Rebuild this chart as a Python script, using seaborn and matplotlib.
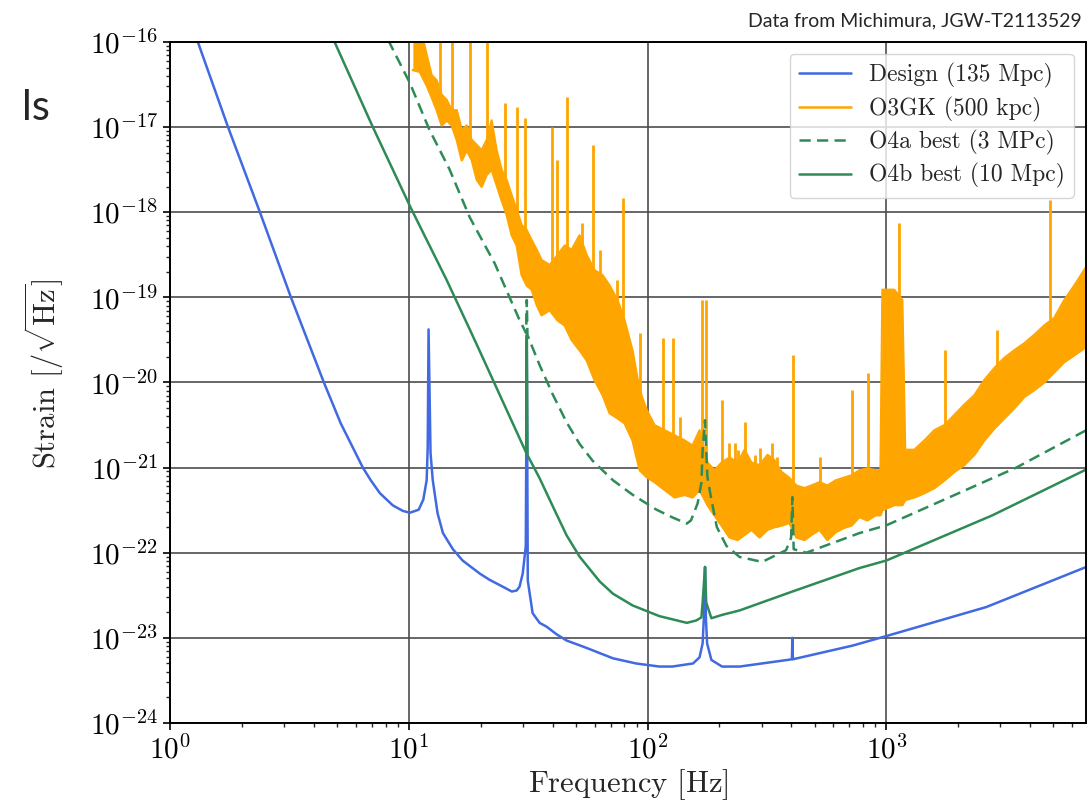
import matplotlib
matplotlib.use("Agg")
import numpy as np
import matplotlib.pyplot as plt
import matplotlib.ticker as mticker
import seaborn as sns

# --- dane (Hz, strain /sqrt(Hz)) ---
design_f = [1.3, 1.75, 2.38, 3.21, 4.41, 5.19, 6.42, 6.93, 7.57, 8.57,
            9.44, 10.1, 11.0, 11.5, 11.88, 12.0, 12.1, 12.33, 12.6, 13.2,
            13.9, 15.3, 16.8, 19.8, 21.8, 24.7, 27.0, 28.3, 29.1, 30.0,
            30.9, 31.2, 31.5, 33.0, 35.3, 37.8, 41.6, 45.8, 55.6, 71.6,
            89.5, 112, 127, 155, 165, 170, 172, 174, 175.5, 177.5,
            185, 205, 243, 385, 402, 404, 406, 721, 1024, 2620,
            6870]
design_h = [1.05e-16, 1e-17, 1e-18, 1e-19, 1e-20, 3.3e-21, 1e-21, 7.1e-22, 5.0e-22, 3.6e-22,
            3.1e-22, 2.95e-22, 3.2e-22, 4.2e-22, 7.1e-22, 1.7e-21, 4.2e-20, 1.5e-21, 7.1e-22, 2.9e-22,
            1.7e-22, 1.1e-22, 8.1e-23, 5.7e-23, 4.8e-23, 4.0e-23, 3.5e-23, 3.6e-23, 4.0e-23, 5.7e-23,
            1.2e-22, 3e-20, 4.7e-23, 1.95e-23, 1.5e-23, 1.35e-23, 1.1e-23, 9.3e-24, 7.6e-24, 5.75e-24,
            5.0e-24, 4.6e-24, 4.6e-24, 5.0e-24, 5.9e-24, 8.6e-24, 1.7e-23, 6.8e-23, 1.7e-23, 8.6e-24,
            5.5e-24, 4.6e-24, 4.6e-24, 5.5e-24, 5.6e-24, 1.0e-23, 5.6e-24, 8.1e-24, 1.07e-23, 2.3e-23,
            6.8e-23]

# O3GK: pasmo szumu, zapisane jako log10(f) i log10(strain) - gorna / dolna krawedz
o3_logf = [1.017, 1.046, 1.075, 1.096, 1.117, 1.138, 1.159, 1.180, 1.201, 1.222,
           1.243, 1.264, 1.285, 1.305, 1.326, 1.347, 1.368, 1.389, 1.410, 1.431,
           1.452, 1.473, 1.494, 1.515, 1.536, 1.556, 1.590, 1.623, 1.653, 1.682,
           1.715, 1.745, 1.778, 1.812, 1.841, 1.874, 1.904, 1.937, 1.967, 1.996,
           2.029, 2.071, 2.113, 2.155, 2.188, 2.218, 2.251, 2.280, 2.310, 2.343,
           2.377, 2.406, 2.435, 2.469, 2.502, 2.531, 2.561, 2.594, 2.623, 2.657,
           2.686, 2.720, 2.753, 2.787, 2.820, 2.854, 2.887, 2.921, 2.954, 2.975,
           2.983, 3.033, 3.067, 3.079, 3.117, 3.159, 3.201, 3.243, 3.285, 3.326,
           3.368, 3.410, 3.452, 3.494, 3.536, 3.577, 3.619, 3.661, 3.703, 3.745,
           3.787, 3.837]
o3_up = [-15.80, -15.80, -16.15, -16.39, -16.45, -16.62, -16.68, -16.80, -16.80, -17.03,
         -16.98, -17.15, -17.21, -17.27, -17.15, -16.92, -17.27, -17.50, -17.62, -17.80,
         -17.97, -18.15, -18.21, -18.33, -18.44, -18.56, -18.62, -18.50, -18.39, -18.44,
         -18.27, -18.50, -18.68, -18.74, -18.86, -19.03, -19.27, -19.62, -20.09, -20.32,
         -20.50, -20.56, -20.62, -20.68, -20.74, -20.56, -20.94, -21.03, -20.94, -20.88,
         -20.94, -20.79, -20.94, -20.97, -20.85, -20.91, -21.05, -21.12, -21.21, -21.24,
         -21.21, -21.17, -21.21, -21.15, -21.12, -21.09, -21.03, -21.01, -21.03, -21.03,
         -18.91, -18.91, -19.03, -20.79, -20.79, -20.68, -20.56, -20.50, -20.38, -20.26,
         -20.15, -19.97, -19.83, -19.71, -19.62, -19.54, -19.44, -19.33, -19.24, -19.03,
         -18.86, -18.64]
o3_lo = [-16.33, -16.35, -16.51, -16.65, -16.80, -16.98, -16.92, -16.98, -17.15, -17.39,
         -17.27, -17.39, -17.62, -17.70, -17.56, -17.50, -17.68, -17.86, -18.03, -18.27,
         -18.39, -18.74, -18.86, -18.91, -19.09, -19.21, -19.15, -19.27, -19.33, -19.50,
         -19.62, -19.74, -19.97, -20.15, -20.36, -20.42, -20.48, -20.68, -21.03, -21.11,
         -21.17, -21.26, -21.35, -21.32, -21.35, -21.26, -21.44, -21.56, -21.68, -21.82,
         -21.85, -21.79, -21.73, -21.82, -21.73, -21.70, -21.68, -21.65, -21.82, -21.85,
         -21.79, -21.73, -21.85, -21.76, -21.71, -21.68, -21.58, -21.62, -21.56, -21.56,
         -21.50, -21.44, -21.44, -21.38, -21.35, -21.30, -21.24, -21.15, -21.05, -20.97,
         -20.85, -20.68, -20.54, -20.42, -20.30, -20.17, -20.09, -20.00, -19.88, -19.76,
         -19.68, -19.58]

# linie (piki) w widmie O3GK: log10(f), log10 podstawy, log10 wierzcholka
spike_logf = [1.130, 1.180, 1.255, 1.326, 1.402, 1.452, 1.485, 1.598, 1.619, 1.661,
              1.724, 1.770, 1.799, 1.870, 1.895, 1.967, 2.063, 2.105, 2.134, 2.226,
              2.243, 2.310, 2.343, 2.364, 2.377, 2.406, 2.448, 2.469, 2.523, 2.544,
              2.607, 2.720, 2.858, 2.921, 3.054, 3.247, 3.464, 3.686]
spike_lo = [-16.90, -16.98, -17.30, -17.50, -17.90, -18.30, -18.70, -19.10, -19.20, -19.30,
            -19.60, -19.80, -20.00, -20.40, -20.40, -20.90, -21.20, -21.30, -21.30, -21.30,
            -21.40, -21.60, -21.80, -21.80, -21.80, -21.70, -21.75, -21.80, -21.70, -21.70,
            -21.70, -21.70, -21.60, -21.60, -21.40, -21.10, -20.50, -19.90]
spike_hi = [-15.80, -15.80, -15.80, -15.80, -16.72, -16.76, -16.89, -17.00, -17.39, -16.65,
            -18.13, -17.21, -18.44, -18.80, -17.83, -19.42, -19.48, -19.48, -20.41, -19.03,
            -19.03, -20.21, -20.71, -20.71, -20.79, -20.46, -20.85, -20.77, -20.71, -20.88,
            -19.68, -20.88, -20.09, -19.89, -18.13, -19.62, -19.38, -17.86]

o4a_f = [8.2, 10.1, 12.2, 14.8, 18.0, 22.9, 29.1, 31.0, 31.2, 31.4,
         35.3, 40.1, 45.8, 51.9, 58.9, 71.6, 86.5, 109, 127, 146,
         152, 162, 168, 170, 174, 176, 178, 185, 195, 214,
         243, 302, 380, 399, 404, 409, 462, 771, 1000, 3500,
         6870]
o4a_h = [1.05e-16, 3.3e-17, 9.3e-18, 3.2e-18, 8.7e-19, 2.5e-19, 5.4e-20, 3.8e-20, 9.3e-20, 3.6e-20,
         1.6e-20, 7.2e-21, 3.4e-21, 1.9e-21, 1.2e-21, 7.1e-22, 4.8e-22, 3.2e-22, 2.6e-22, 2.2e-22,
         2.4e-22, 3.8e-22, 6.6e-22, 1.6e-21, 3.6e-21, 1.6e-21, 7.8e-22, 4.2e-22, 2.0e-22, 1.2e-22,
         8.9e-23, 7.8e-23, 1.07e-22, 1.5e-22, 4.5e-22, 1.1e-22, 1.0e-22, 1.7e-22, 2.1e-22, 1.0e-21,
         2.75e-21]

o4b_f = [4.85, 7.07, 10.2, 14.4, 18.0, 19.8, 31.0, 31.2, 31.4, 35.3,
         40.1, 45.8, 51.9, 63.0, 71.6, 86.6, 112, 146, 160, 168,
         170, 174, 176, 185, 205, 243, 404, 771, 1000, 2780,
         6870]
o4b_h = [1.05e-16, 1e-17, 1.12e-18, 1.6e-19, 4.2e-20, 2.35e-20, 1.5e-21, 3.6e-20, 1.4e-21, 7.5e-22,
         3.5e-22, 1.6e-22, 9.0e-23, 4.6e-23, 3.3e-23, 2.4e-23, 1.8e-23, 1.5e-23, 1.6e-23, 1.74e-23,
         2.6e-23, 6.8e-23, 2.6e-23, 1.7e-23, 1.86e-23, 2.1e-23, 3.5e-23, 6.6e-23, 8.1e-23, 2.75e-22,
         9.5e-22]

BLUE = "#4169E1"
ORANGE = "#FFA500"
GREEN = "#2E8B57"

sns.set_style("ticks")
plt.rcParams.update({
    "font.family": "serif",
    "font.serif": ["cmr10"],
    "mathtext.fontset": "cm",
    "axes.formatter.use_mathtext": True,
    "axes.unicode_minus": False,
})

fig = plt.figure(figsize=(10.89, 8.05), dpi=100)
ax = fig.add_axes([0.1561, 0.1019, 0.8411, 0.8460])

sns.lineplot(x=design_f, y=design_h, ax=ax, color=BLUE, lw=1.8,
             label="Design (135 Mpc)", sort=False, estimator=None)

# O3GK: gesty szum jako pasmo + piki
o3_f = np.power(10.0, o3_logf)
o3_upper = np.power(10.0, o3_up)
o3_lower = np.power(10.0, o3_lo)
ax.fill_between(o3_f, o3_lower, o3_upper, color=ORANGE, lw=0)
ax.vlines(np.power(10.0, spike_logf), np.power(10.0, spike_lo), np.power(10.0, spike_hi),
          color=ORANGE, lw=2)
sns.lineplot(x=o3_f, y=o3_lower, ax=ax, color=ORANGE, lw=1.8,
             label="O3GK (500 kpc)", sort=False, estimator=None)
sns.lineplot(x=o3_f, y=o3_upper, ax=ax, color=ORANGE, lw=1.5,
             sort=False, estimator=None)

sns.lineplot(x=o4a_f, y=o4a_h, ax=ax, color=GREEN, lw=1.8, linestyle=(0, (4.5, 2.5)),
             label="O4a best (3 MPc)", sort=False, estimator=None)
sns.lineplot(x=o4b_f, y=o4b_h, ax=ax, color=GREEN, lw=1.8,
             label="O4b best (10 Mpc)", sort=False, estimator=None)

ax.set_xscale("log")
ax.set_yscale("log")
ax.set_xlim(1, 6850)
ax.set_ylim(1e-24, 1e-16)

ax.xaxis.set_major_locator(mticker.FixedLocator([1, 10, 100, 1000]))
ax.yaxis.set_major_locator(mticker.FixedLocator([10.0 ** k for k in range(-24, -15)]))
ax.xaxis.set_major_formatter(mticker.LogFormatterSciNotation())
ax.yaxis.set_major_formatter(mticker.LogFormatterSciNotation())
for axis in (ax.xaxis, ax.yaxis):
    axis.set_minor_locator(mticker.LogLocator(base=10, subs=range(2, 10), numticks=100))
    axis.set_minor_formatter(mticker.NullFormatter())

ax.grid(True, which="major", color="0.3", lw=1.2)
ax.set_axisbelow(True)
ax.tick_params(which="major", labelsize=21, length=5, width=1.2, colors="black")
ax.tick_params(which="minor", length=3, width=1)
for sp in ax.spines.values():
    sp.set_color("black")
    sp.set_linewidth(1.4)

ax.set_xlabel(r"Frequency $[\mathrm{Hz}]$", fontsize=22, labelpad=2)
ax.set_ylabel(r"Strain $[/\sqrt{\mathrm{Hz}}]$", fontsize=22)
ax.yaxis.set_label_coords(-0.113, 0.513)

ax.legend(loc="upper right", fontsize=17, handlelength=2.2, handletextpad=0.75,
          labelspacing=0.35, framealpha=0.8, fancybox=True, edgecolor="0.8",
          borderpad=0.4)

fig.text(0.9936, 0.985, "Data from Michimura, JGW-T2113529", ha="right", va="top",
         family="Lato", fontsize=14)
fig.text(0.020, 0.851, "ls", ha="left", va="baseline", family="Lato", fontsize=30)

fig.savefig("out.png", dpi=100)
